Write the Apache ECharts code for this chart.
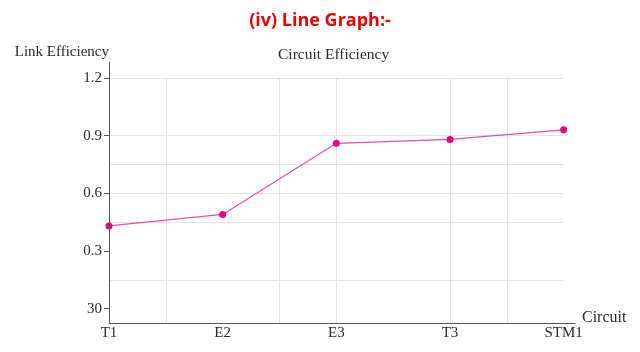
<!DOCTYPE html>
<html>
<head>
<meta charset="utf-8">
<script src="https://cdn.jsdelivr.net/npm/echarts@6/dist/echarts.min.js"></script>
<style>
  html, body { margin: 0; padding: 0; background: #fff; }
  #chart { width: 640px; height: 352px; }
</style>
</head>
<body>
<div id="chart"></div>
<script>
// data
const categories = ["T1", "E2", "E3", "T3", "STM1"];
const efficiency = [0.43, 0.49, 0.86, 0.88, 0.93];
const yTickValues = [0, 0.3, 0.6, 0.9, 1.2];
const yTickLabels = ["30", "0.3", "0.6", "0.9", "1.2"];
// the grid lines in the picture are not regular
const hGridValues = [0.15, 0.45, 0.6, 0.75, 0.9, 1.2];
const vGridValues = [0.5, 1.5, 2, 3, 3.5];

const serif = "Liberation Serif";
const yMin = -0.075;
const yMax = 1.283;
const gridColor = "#e2e2e2";

let myChart = echarts.init(document.getElementById("chart"));

let gridLines = [];
hGridValues.forEach((v) => {
  gridLines.push([{ coord: [0, v] }, { coord: [categories.length - 1, v] }]);
});
vGridValues.forEach((v) => {
  gridLines.push([{ coord: [v, yMin] }, { coord: [v, 1.2] }]);
});

let option = {
  animation: false,
  backgroundColor: "#fff",
  title: [
    {
      text: "(iv) Line Graph:-",
      left: "center",
      top: 7,
      textStyle: {
        color: "#e60000",
        fontWeight: "bold",
        fontSize: 18,
        fontFamily: "Open Sans",
      },
    },
    {
      text: "Circuit Efficiency",
      left: 273,
      top: 42,
      textStyle: {
        color: "#2a2a2a",
        fontWeight: "normal",
        fontSize: 15.5,
        fontFamily: serif,
      },
    },
  ],
  grid: {
    left: 109,
    top: 62,
    right: 65,
    bottom: 29,
  },
  xAxis: {
    type: "value",
    min: 0,
    max: 4.1,
    z: 5,
    name: "Circuit",
    nameLocation: "end",
    nameGap: 7,
    nameTextStyle: {
      color: "#2a2a2a",
      fontSize: 16,
      fontFamily: serif,
      verticalAlign: "bottom",
      padding: [0, 0, -3, 0],
    },
    axisLine: { onZero: false, lineStyle: { color: "#555", width: 1 } },
    axisTick: { show: false },
    splitLine: { show: false },
    axisLabel: {
      customValues: categories.map((c, i) => i),
      formatter: (v) => categories[v],
      color: "#2a2a2a",
      fontSize: 15,
      fontFamily: serif,
      margin: 3,
    },
  },
  yAxis: {
    type: "value",
    min: yMin,
    max: yMax,
    z: 5,
    name: "Link Efficiency",
    nameLocation: "end",
    nameGap: 2,
    nameTextStyle: {
      color: "#2a2a2a",
      fontSize: 15,
      fontFamily: serif,
      align: "right",
    },
    axisLine: { show: true, onZero: false, lineStyle: { color: "#555", width: 1 } },
    axisTick: {
      show: true,
      length: 5,
      customValues: yTickValues,
      lineStyle: { color: "#555" },
    },
    splitLine: { show: false },
    axisLabel: {
      customValues: yTickValues,
      formatter: (v) => {
        let idx = yTickValues.indexOf(v);
        return idx >= 0 ? yTickLabels[idx] : "";
      },
      color: "#2a2a2a",
      fontSize: 15,
      fontFamily: serif,
      margin: 7,
    },
  },
  series: [
    {
      type: "line",
      data: efficiency.map((v, i) => [i, v]),
      symbol: "circle",
      symbolSize: 7,
      itemStyle: { color: "#e6007e" },
      lineStyle: { color: "#e8509a", width: 1.2 },
      z: 3,
      markLine: {
        silent: true,
        symbol: "none",
        label: { show: false },
        lineStyle: { color: gridColor, width: 1, type: "solid" },
        data: gridLines,
        z: 1,
      },
    },
  ],
};

myChart.setOption(option);
</script>
</body>
</html>
